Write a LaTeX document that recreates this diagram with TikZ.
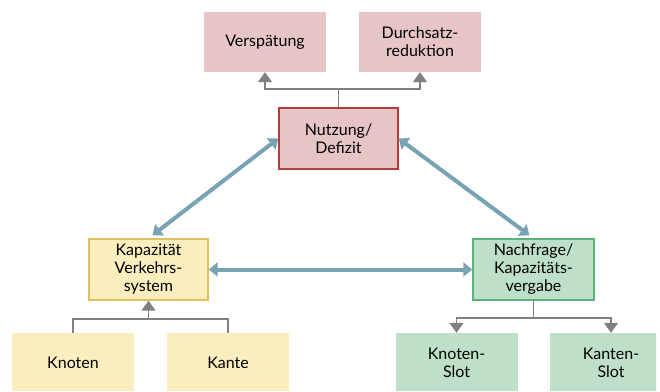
\documentclass[tikz,border=0pt]{standalone}
\usepackage{fontspec}
\setmainfont{Lato}
\usetikzlibrary{arrows.meta,calc}
\definecolor{pinkfill}{RGB}{231,197,199}
\definecolor{pinkdraw}{RGB}{178,62,58}
\definecolor{yelfill}{RGB}{250,237,190}
\definecolor{yeldraw}{RGB}{226,192,92}
\definecolor{grnfill}{RGB}{190,224,200}
\definecolor{grndraw}{RGB}{92,176,122}
\definecolor{bluearr}{RGB}{120,163,180}
\definecolor{greyline}{RGB}{128,128,128}
\tikzset{
  box/.style={rectangle, inner sep=0pt, align=center, minimum width=122pt, minimum height=60pt,
    font=\fontsize{16}{18}\selectfont, text=black},
  pinkbox/.style={box, fill=pinkfill},
  yelbox/.style={box, fill=yelfill},
  grnbox/.style={box, fill=grnfill},
  midbox/.style={line width=1.4pt, minimum height=61pt},
  greyconn/.style={draw=greyline, line width=1.8pt},
  greytip/.style={greyconn, -{Triangle[width=14pt,length=10pt]}},
  bluedbl/.style={draw=bluearr, line width=4pt, {Triangle[width=14pt,length=9pt]}-{Triangle[width=14pt,length=9pt]}}
}
\begin{document}
\begin{tikzpicture}[x=1pt,y=-1pt]
\useasboundingbox (0,0) rectangle (660,391);
\begin{scope}
\clip (0,0) rectangle (656,390);
\node[pinkbox] (versp) at (265,42) {Verspätung};
\node[pinkbox] (durch) at (420,42) {Durchsatz-\\reduktion};
\node[pinkbox, midbox, draw=pinkdraw, minimum width=119pt] (nutz) at (338.5,138.5) {Nutzung/\\Defizit};
\node[yelbox, midbox, draw=yeldraw, minimum width=119pt] (kap) at (148.5,269.5) {Kapazität\\Verkehrs-\\system};
\node[grnbox, midbox, draw=grndraw, minimum width=121pt] (nach) at (533.5,269.5) {Nachfrage/\\Kapazitäts-\\vergabe};
\node[yelbox] (knoten) at (73,363) {Knoten};
\node[yelbox] (kante) at (228,363) {Kante};
\node[grnbox] (kslot) at (456.5,363) {Knoten-\\Slot};
\node[grnbox] (kaslot) at (611,363) {Kanten-\\Slot};
\end{scope}
% grey connectors top
\coordinate (tj) at ($(nutz.north)+(0,-18)$);
\draw[greyconn] (nutz.north) -- (tj);
\draw[greytip] (tj) -| (versp.south);
\draw[greytip] (tj) -| (durch.south);
% grey connectors left bottom
\coordinate (lj) at ($(kap.south)+(0,18)$);
\draw[greyconn] (knoten.north) |- (lj);
\draw[greyconn] (kante.north) |- (lj);
\draw[greytip] (lj) -- (kap.south);
% grey connectors right bottom
\coordinate (rj) at ($(nach.south)+(0,17)$);
\draw[greyconn] (nach.south) -- (rj);
\draw[greytip] (rj) -| (kslot.north);
\draw[greytip] (rj) -| (kaslot.north);
% blue double arrows
\draw[bluedbl, shorten >=5pt] (nutz.west) -- (kap.north);
\draw[bluedbl, shorten >=5pt] (nutz.east) -- (nach.north);
\draw[bluedbl] (kap.east) -- (nach.west);
\end{tikzpicture}
\end{document}
